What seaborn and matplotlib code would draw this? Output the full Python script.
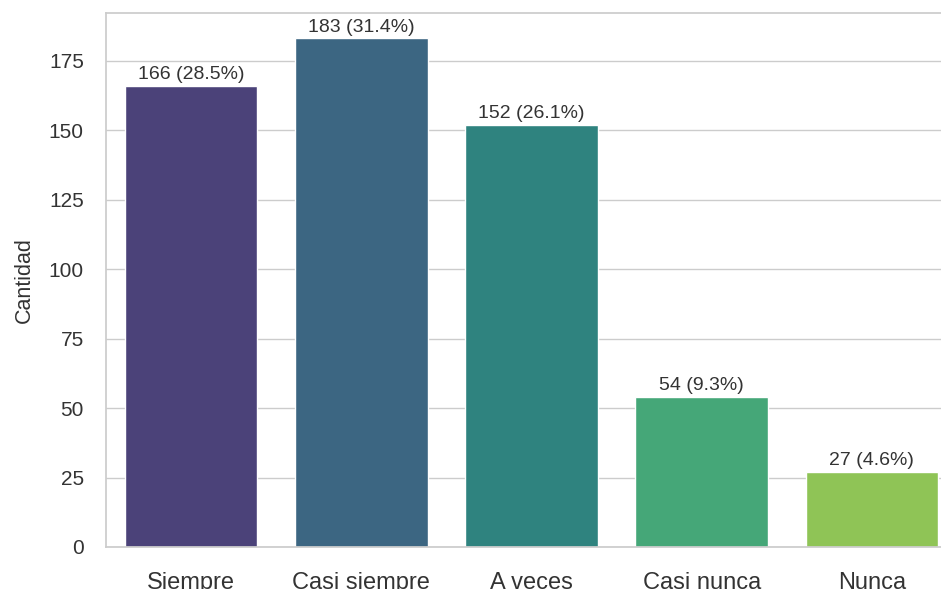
import numpy as np
import pandas as pd
import matplotlib
matplotlib.use("Agg")
import matplotlib.pyplot as plt
import seaborn as sns

# Response categories and counts
categories = ["Siempre", "Casi siempre", "A veces", "Casi nunca", "Nunca"]
counts = [166, 183, 152, 54, 27]

total = sum(counts)
percents = [100 * c / total for c in counts]

sns.set_theme(style="whitegrid")
plt.rcParams['font.family'] = ['Liberation Sans', 'DejaVu Sans']

fig = plt.figure(figsize=(9.41, 5.89), dpi=100)
# the reference is cropped: the axes run a little past the right edge
ax = fig.add_axes([106 / 941, 42 / 589, 851 / 941, 534 / 589])

sns.barplot(x=categories, y=counts, hue=categories, palette="viridis",
            legend=False, width=0.78, ax=ax)

ax.set_ylim(0, max(counts) * 1.05)
ax.set_xlim(-0.5, len(categories) - 0.5)
ax.set_yticks([0, 25, 50, 75, 100, 125, 150, 175])
ax.spines["right"].set_visible(False)

# Value labels above each bar
for i, (c, p) in enumerate(zip(counts, percents)):
    ax.annotate(f"{c} ({p:.1f}%)", (i, c), xytext=(0, 2), textcoords="offset points",
                ha="center", va="bottom", fontsize=14, color="#333333")

ax.set_xlabel("")
ax.set_ylabel("Cantidad", fontsize=15.5, color="#333333", labelpad=10)
ax.tick_params(axis="x", labelsize=17, pad=12, colors="#333333")
ax.tick_params(axis="y", labelsize=15, pad=10, colors="#333333")

plt.savefig("out.png", dpi=100)
